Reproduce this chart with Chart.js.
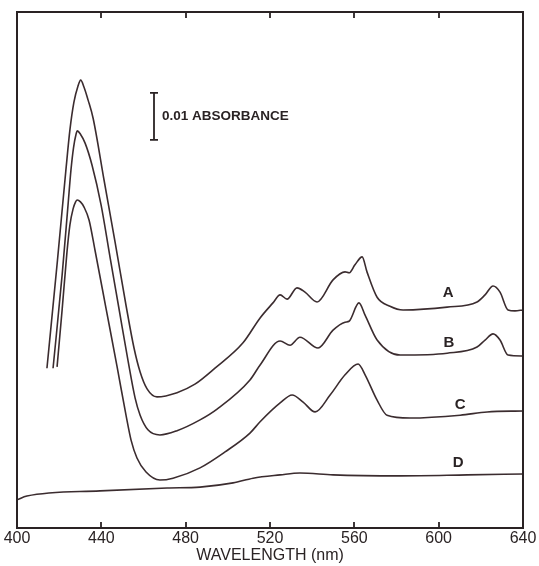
<!DOCTYPE html>
<html>
<head>
<meta charset="utf-8">
<script src="https://cdn.jsdelivr.net/npm/chart.js@4.4.1/dist/chart.umd.min.js"></script>
<style>
  html, body { margin: 0; padding: 0; background: #fff; }
  #wrap { width: 539px; height: 566px; }
</style>
</head>
<body>
<div id="wrap"><canvas id="spectra"></canvas></div>
<script>
// wavelength (nm) and absorbance
const nmA = [414.2, 419.2, 423.2, 425.1, 427.0, 428.9, 430.2, 431.8, 433.7, 436.1, 441.3, 446.5, 451.7, 455.5, 458.4, 461.7, 466.4, 475.9, 484.4, 493.9, 507.2, 515.3, 521.4, 524.8, 528.1, 532.8, 536.6, 542.3, 549.9, 555.6, 557.5, 560.3, 563.7, 566.0, 570.8, 576.9, 583.1, 604.0, 618.2, 622.0, 625.8, 629.1, 632.9, 636.2, 640];
const absA = [0.0340, 0.0570, 0.0762, 0.0847, 0.0906, 0.0940, 0.0953, 0.0938, 0.0911, 0.0872, 0.0740, 0.0609, 0.0474, 0.0383, 0.0332, 0.0296, 0.0279, 0.0288, 0.0306, 0.0340, 0.0394, 0.0447, 0.0479, 0.0496, 0.0487, 0.0511, 0.0502, 0.0481, 0.0528, 0.0545, 0.0543, 0.0560, 0.0577, 0.0545, 0.0491, 0.0472, 0.0464, 0.0470, 0.0481, 0.0496, 0.0515, 0.0502, 0.0464, 0.0462, 0.0464];

const nmB = [417.1, 421.4, 424.2, 425.6, 426.8, 428.0, 428.6, 430.1, 432.3, 435.6, 439.9, 444.1, 448.4, 452.7, 456.0, 458.4, 462.1, 467.8, 475.9, 486.8, 494.9, 510.5, 515.3, 524.8, 529.5, 534.2, 542.8, 549.9, 555.6, 557.5, 562.2, 565.1, 570.8, 581.7, 604.0, 618.2, 622.0, 625.8, 629.1, 632.9, 640];
const absB = [0.0340, 0.0538, 0.0687, 0.0762, 0.0809, 0.0838, 0.0845, 0.0838, 0.0819, 0.0772, 0.0687, 0.0577, 0.0466, 0.0355, 0.0277, 0.0240, 0.0209, 0.0198, 0.0207, 0.0230, 0.0253, 0.0315, 0.0347, 0.0398, 0.0389, 0.0406, 0.0383, 0.0421, 0.0438, 0.0440, 0.0479, 0.0453, 0.0400, 0.0368, 0.0372, 0.0385, 0.0400, 0.0413, 0.0400, 0.0368, 0.0366];

const nmC = [419.0, 421.4, 423.7, 425.1, 426.6, 427.8, 428.6, 430.1, 431.8, 434.2, 437.0, 442.2, 447.4, 451.7, 454.1, 456.9, 461.2, 467.8, 474.0, 486.8, 498.7, 510.5, 515.3, 524.8, 530.5, 535.7, 541.4, 548.5, 555.6, 561.8, 565.1, 570.8, 575.5, 586.4, 610.2, 623.0, 640];
const absC = [0.0343, 0.0464, 0.0587, 0.0645, 0.0679, 0.0694, 0.0698, 0.0694, 0.0683, 0.0655, 0.0591, 0.0468, 0.0345, 0.0240, 0.0187, 0.0149, 0.0119, 0.0102, 0.0106, 0.0128, 0.0162, 0.0202, 0.0226, 0.0266, 0.0283, 0.0268, 0.0247, 0.0283, 0.0326, 0.0349, 0.0326, 0.0272, 0.0240, 0.0234, 0.0240, 0.0247, 0.0249];

const nmD = [400, 404.7, 439.4, 471.2, 486.8, 502.5, 512.0, 524.8, 534.2, 549.9, 581.7, 613.5, 640];
const absD = [0.0060, 0.0068, 0.0079, 0.0085, 0.0087, 0.0096, 0.0106, 0.0113, 0.0117, 0.0113, 0.0111, 0.0113, 0.0115];

const curveNames = ['A', 'B', 'C', 'D'];
const xTicks = [400, 440, 480, 520, 560, 600, 640];
const scaleBarSize = 0.01;
const scaleBarText = '0.01 ABSORBANCE';
const xTitle = 'WAVELENGTH (nm)';

const ink = '#2a2324';
const curveInk = '#3b2c2f';
const fontFamily = '"Liberation Sans", Arial, sans-serif';

function points(xs, ys) {
    return xs.map((x, i) => ({ x: x, y: ys[i] }));
}

// frame, inward ticks, scale bar and curve letters
const decorations = {
    id: 'decorations',
    afterDatasetsDraw(chart) {
        const ctx = chart.ctx;
        const area = chart.chartArea;
        const xs = chart.scales.x;
        const ys = chart.scales.y;
        ctx.save();
        ctx.strokeStyle = ink;
        ctx.lineWidth = 2;
        ctx.strokeRect(area.left, area.top, area.right - area.left, area.bottom - area.top);

        ctx.lineWidth = 1.8;
        xTicks.slice(1, -1).forEach(t => {
            const px = Math.round(xs.getPixelForValue(t));
            ctx.beginPath();
            ctx.moveTo(px, area.top);
            ctx.lineTo(px, area.top + 6);
            ctx.moveTo(px, area.bottom);
            ctx.lineTo(px, area.bottom - 6);
            ctx.stroke();
        });

        // 0.01 absorbance bar
        const bx = Math.round(xs.getPixelForValue(465));
        const yTop = ys.getPixelForValue(0.0926);
        const yBot = ys.getPixelForValue(0.0926 - scaleBarSize);
        ctx.lineWidth = 1.8;
        ctx.beginPath();
        ctx.moveTo(bx, yTop);
        ctx.lineTo(bx, yBot);
        ctx.moveTo(bx - 4, yTop);
        ctx.lineTo(bx + 4, yTop);
        ctx.moveTo(bx - 4, yBot);
        ctx.lineTo(bx + 4, yBot);
        ctx.stroke();

        ctx.fillStyle = ink;
        ctx.font = 'bold 13.5px ' + fontFamily;
        ctx.textAlign = 'left';
        ctx.textBaseline = 'middle';
        ctx.fillText(scaleBarText, bx + 8, (yTop + yBot) / 2);

        // curve letters
        const labelAt = [[604.5, 0.0500], [604.9, 0.0394], [610.2, 0.0262], [609.2, 0.0138]];
        ctx.font = 'bold 15px ' + fontFamily;
        ctx.textAlign = 'center';
        curveNames.forEach((name, i) => {
            ctx.fillText(name, xs.getPixelForValue(labelAt[i][0]), ys.getPixelForValue(labelAt[i][1]));
        });
        ctx.restore();
    }
};

const series = [points(nmA, absA), points(nmB, absB), points(nmC, absC), points(nmD, absD)];

new Chart(document.getElementById('spectra'), {
    type: 'line',
    data: {
        datasets: series.map((pts, i) => ({
            label: curveNames[i],
            data: pts,
            borderColor: curveInk,
            borderWidth: 1.6,
            pointRadius: 0,
            fill: false,
            cubicInterpolationMode: 'monotone'
        }))
    },
    options: {
        responsive: true,
        maintainAspectRatio: false,
        animation: false,
        layout: {
            padding: { left: 17, right: 16, top: 12, bottom: 1 }
        },
        plugins: {
            legend: { display: false },
            tooltip: { enabled: false }
        },
        scales: {
            x: {
                type: 'linear',
                min: 400,
                max: 640,
                afterBuildTicks: axis => { axis.ticks = xTicks.map(v => ({ value: v })); },
                afterFit: axis => { axis.height = 37; },
                grid: { display: false, drawTicks: false },
                border: { display: false },
                ticks: {
                    padding: 1,
                    color: ink,
                    font: { family: fontFamily, size: 16 }
                },
                title: {
                    display: true,
                    text: xTitle,
                    color: ink,
                    padding: { top: 0, bottom: 0 },
                    font: { family: fontFamily, size: 16 }
                }
            },
            y: {
                display: false,
                min: 0,
                max: 0.1098
            }
        }
    },
    plugins: [decorations]
});
</script>
</body>
</html>
